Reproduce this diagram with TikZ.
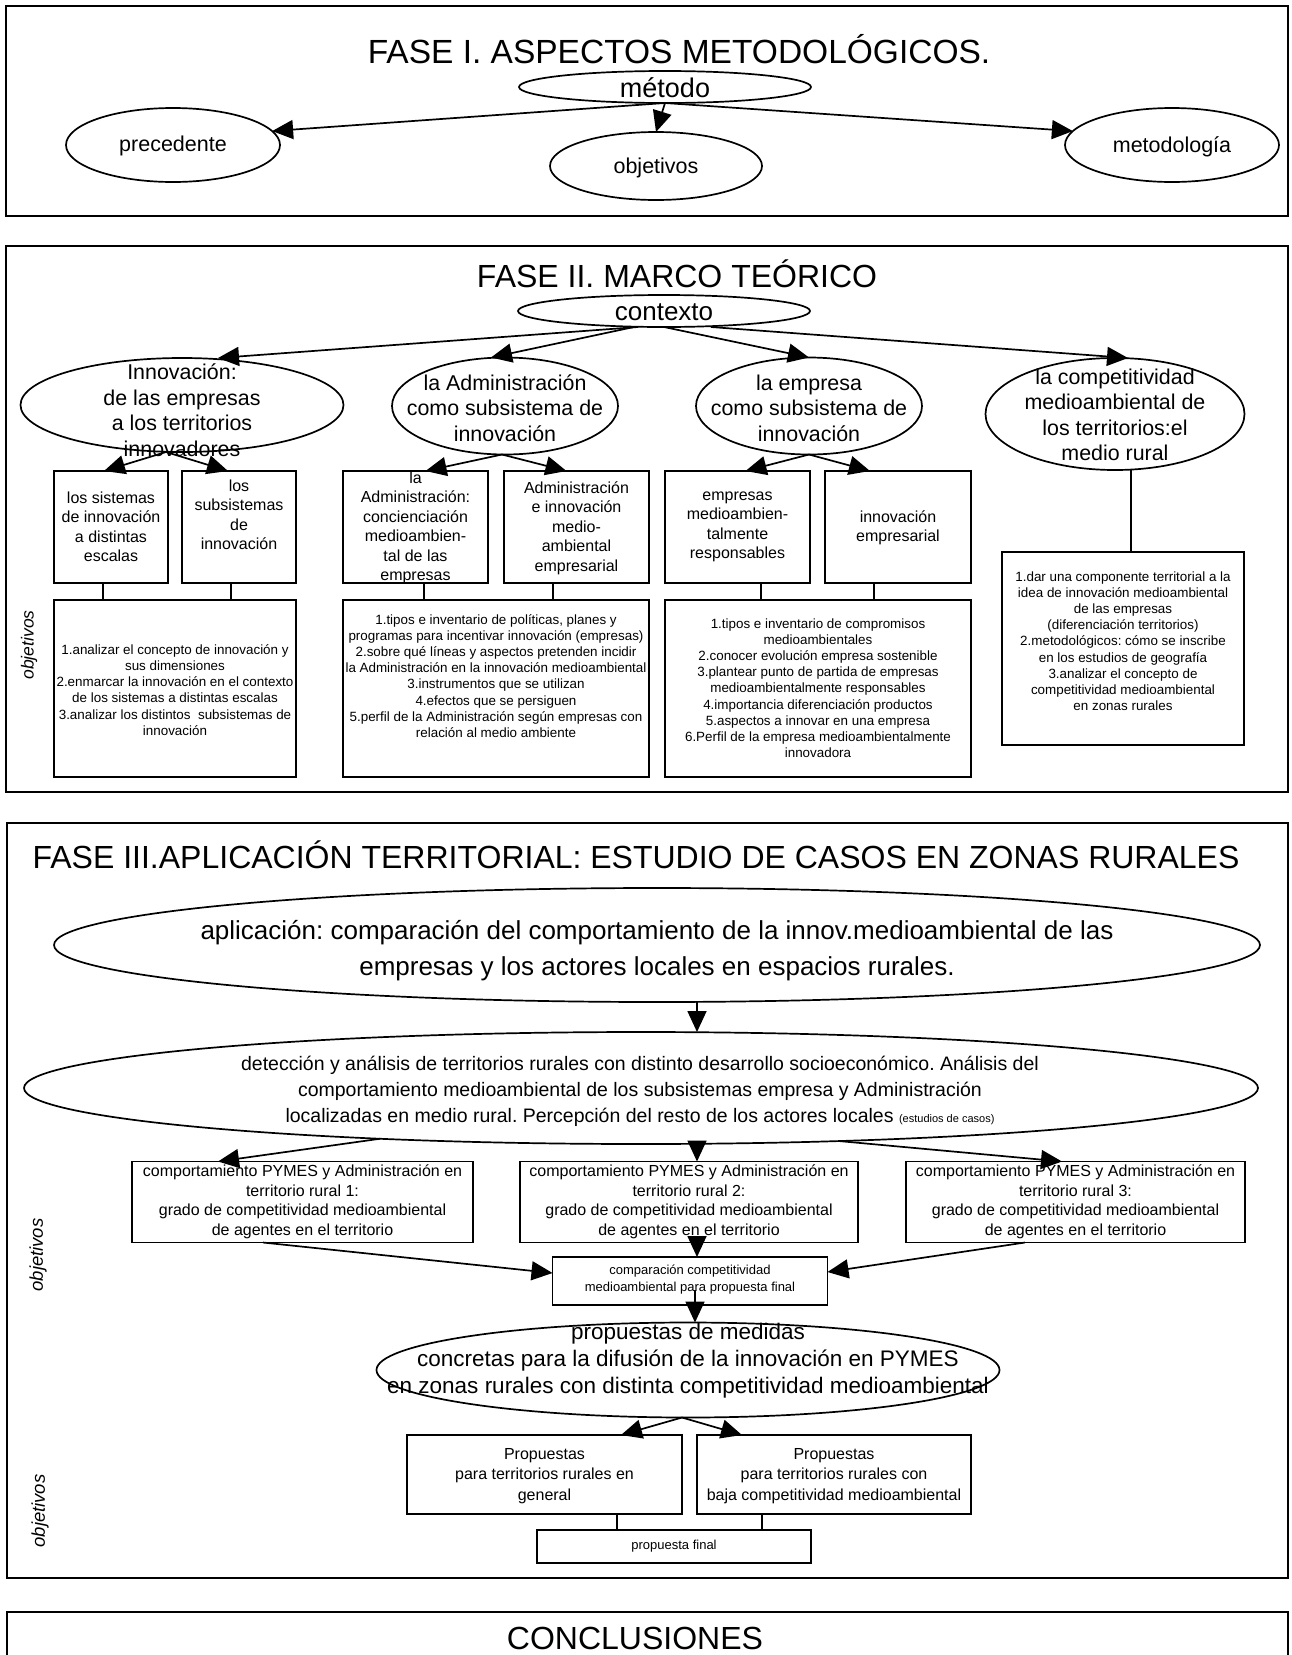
\documentclass[tikz,border=0pt]{standalone}
\usepackage{fontspec}
\setmainfont{Liberation Sans}
\usetikzlibrary{shapes.geometric,arrows.meta,calc}
\newcommand{\myfs}[2]{\fontsize{#1}{#2}\selectfont}
\begin{document}
\frenchspacing
\begin{tikzpicture}[x=1pt,y=-1pt,
  ln/.style={line width=1.7pt},
  arr/.style={line width=1.7pt,-{Triangle[length=21pt,width=19pt]}},
  ell/.style={draw,line width=1.7pt,ellipse,inner sep=0pt,outer sep=0pt},
  bx/.style={draw,line width=1.7pt,rectangle,inner sep=0pt,outer sep=0pt},
  lbl/.style={align=center,inner sep=0pt},
  frame/.style={line width=2.3pt},
  ttl/.style={inner sep=0pt,anchor=base,font={\myfs{32}{38}}},
  obj/.style={inner sep=0pt,rotate=90,font={\myfs{17.5}{20}\itshape}},
  elfont/.style={font={\myfs{21.4}{25.5}}},
  bxfont/.style={font={\myfs{16}{19.5}}},
  smfont/.style={font={\myfs{13.4}{16.2}}}
]
\fill[white] (0,0) rectangle (1291,1655);
\useasboundingbox (0,0) rectangle (1291,1655);
\clip (0,0) rectangle (1291,1655);

% ---------------- Panel 1
\draw[frame] (6,6) rectangle (1288,216);
\node[ttl,font={\myfs{33.5}{40}}] (t1) at (679,63) {FASE I. ASPECTOS METODOLÓGICOS.};
\node[ell,minimum width=292pt,minimum height=32pt] (metodo) at (665,87) {};
\node[lbl,font={\myfs{27}{32}}] (metodoL) at (665,88) {método};
\node[ell,minimum width=214pt,minimum height=74pt] (prec) at (173,145) {};
\node[lbl,font={\myfs{21.5}{26}}] (precL) at (173,146) {precedente};
\node[ell,minimum width=212pt,minimum height=68pt] (objv) at (656,166) {};
\node[lbl,font={\myfs{21.5}{26}}] (objvL) at (656,168) {objetivos};
\node[ell,minimum width=214pt,minimum height=74pt] (metod) at (1172,145) {};
\node[lbl,font={\myfs{21.5}{26}}] (metodL) at (1172,147) {metodología};
\draw[arr] (metodo.south) -- (prec.8);
\draw[arr] (metodo.south) -- (objv.north);
\draw[arr] (metodo.south) -- (metod.172);

% ---------------- Panel 2
\draw[frame] (6,246) rectangle (1288,792);
\node[ttl] (t2) at (677,287) {FASE II. MARCO TEÓRICO};
\node[ell,minimum width=292pt,minimum height=32pt] (ctx) at (664,311) {};
\node[lbl,font={\myfs{26}{30}}] (ctxL) at (664,312) {contexto};

\node[ell,minimum width=323pt,minimum height=94pt] (inno) at (182,405) {};
\node[lbl,elfont] (innoL) at (182,410) {Innovación:\\de las empresas\\a los territorios\\innovadores};
\node[ell,minimum width=226pt,minimum height=97pt] (adm) at (505,406) {};
\node[lbl,elfont] (admL) at (505,408) {la Administración\\como subsistema de\\innovación};
\node[ell,minimum width=226pt,minimum height=97pt] (emp) at (809,406) {};
\node[lbl,elfont] (empL) at (809,408) {la empresa\\como subsistema de\\innovación};
\node[ell,minimum width=259pt,minimum height=112pt] (comp) at (1115,414) {};
\node[lbl,elfont] (compL) at (1115,415) {la competitividad\\medioambiental de\\los territorios:el\\medio rural};

\draw[arr] ([xshift=-26pt]ctx.south) -- ([xshift=36pt]inno.north);
\draw[arr] ([xshift=-30pt]ctx.south) -- ([xshift=-14pt]adm.north);
\draw[arr] (ctx.south) -- (emp.north);
\draw[arr] ([xshift=47pt]ctx.south) -- ([xshift=13pt]comp.north);

\node[bx,minimum width=114pt,minimum height=112pt] (bA) at (111,527) {};
\node[lbl,bxfont] (bAL) at (111,527) {los sistemas\\de innovación\\a distintas\\escalas};
\node[bx,minimum width=114pt,minimum height=112pt] (bB) at (239,527) {};
\node[lbl,bxfont] (bBL) at (239,515) {los\\subsistemas\\de\\innovación};
\node[bx,minimum width=145pt,minimum height=112pt] (bC) at (415.5,527) {};
\node[lbl,bxfont] (bCL) at (415.5,528) {la\\Administración:\\concienciación\\medioambien-\\tal de las\\empresas};
\node[bx,minimum width=145pt,minimum height=112pt] (bD) at (576.5,527) {};
\node[lbl,bxfont] (bDL) at (576.5,528) {Administración\\e innovación\\medio-\\ambiental\\empresarial};
\node[bx,minimum width=145pt,minimum height=112pt] (bE) at (737.5,527) {};
\node[lbl,bxfont] (bEL) at (737.5,527) {empresas\\medioambien-\\talmente\\responsables};
\node[bx,minimum width=146pt,minimum height=112pt] (bF) at (898,527) {};
\node[lbl,bxfont] (bFL) at (898,528) {innovación\\empresarial};

\draw[arr] ([xshift=-16pt]inno.south) -- ([xshift=-7pt]bA.north);
\draw[arr] ([xshift=-16pt]inno.south) -- ([xshift=-11pt]bB.north);
\draw[arr] ([xshift=-3pt]adm.south) -- ([xshift=10pt]bC.north);
\draw[arr] ([xshift=-3pt]adm.south) -- ([xshift=-10pt]bD.north);
\draw[arr] (emp.south) -- ([xshift=8pt]bE.north);
\draw[arr] (emp.south) -- ([xshift=-28pt]bF.north);

\node[bx,minimum width=242pt,minimum height=177pt] (oH) at (175,688.5) {};
\node[lbl,smfont] (oHL) at (175,690) {1.analizar el concepto de innovación y\\sus dimensiones\\2.enmarcar la innovación en el contexto\\de los sistemas a distintas escalas\\3.analizar los distintos\ \ subsistemas de\\innovación};
\node[bx,minimum width=306pt,minimum height=177pt] (oI) at (496,688.5) {};
\node[lbl,smfont] (oIL) at (496,676) {1.tipos e inventario de políticas, planes y\\programas para incentivar innovación (empresas)\\2.sobre qué líneas y aspectos pretenden incidir\\la Administración en la innovación medioambiental\\3.instrumentos que se utilizan\\4.efectos que se persiguen\\5.perfil de la Administración según empresas con\\relación al medio ambiente};
\node[bx,minimum width=306pt,minimum height=177pt] (oJ) at (818,688.5) {};
\node[lbl,smfont] (oJL) at (818,688) {1.tipos e inventario de compromisos\\medioambientales\\2.conocer evolución empresa sostenible\\3.plantear punto de partida de empresas\\medioambientalmente responsables\\4.importancia diferenciación productos\\5.aspectos a innovar en una empresa\\6.Perfil de la empresa medioambientalmente\\innovadora};
\node[bx,minimum width=242pt,minimum height=193pt] (oG) at (1123,648.5) {};
\node[lbl,smfont] (oGL) at (1123,641) {1.dar una componente territorial a la\\idea de innovación medioambiental\\de las empresas\\(diferenciación territorios)\\2.metodológicos: cómo se inscribe\\en los estudios de geografía\\3.analizar el concepto de\\competitividad medioambiental\\en zonas rurales};

\draw[ln] ($(bA.south)+(-8,0)$) -- ($(bA.south |- oH.north)+(-8,0)$);
\draw[ln] ($(bB.south)+(-8,0)$) -- ($(bB.south |- oH.north)+(-8,0)$);
\draw[ln] ($(bC.south)+(8.5,0)$) -- ($(bC.south |- oI.north)+(8.5,0)$);
\draw[ln] ($(bD.south)+(-23.5,0)$) -- ($(bD.south |- oI.north)+(-23.5,0)$);
\draw[ln] ($(bE.south)+(23.5,0)$) -- ($(bE.south |- oJ.north)+(23.5,0)$);
\draw[ln] ($(bF.south)+(-24,0)$) -- ($(bF.south |- oJ.north)+(-24,0)$);
\draw[ln] ($(comp.south)+(16,0)$) -- ($(comp.south |- oG.north)+(16,0)$);

\node[obj] (objA) at (29,645) {objetivos};

% ---------------- Panel 3
\draw[frame] (7,823) rectangle (1288,1578);
\node[ttl] (t3) at (636,868) {FASE III.APLICACIÓN TERRITORIAL: ESTUDIO DE CASOS EN ZONAS RURALES};
\node[ell,minimum width=1206pt,minimum height=114pt] (apl) at (657,945) {};
\node[lbl,font={\myfs{26}{36}}] (aplL) at (657,951) {aplicación: comparación del comportamiento de la innov.medioambiental de las\\empresas y los actores locales en espacios rurales.};
\node[ell,minimum width=1234pt,minimum height=112pt] (det) at (641,1088) {};
\node[lbl,font={\myfs{19.5}{26}}] (detL) at (640,1091) {detección y análisis de territorios rurales con distinto desarrollo socioeconómico. Análisis del\\comportamiento medioambiental de los subsistemas empresa y Administración\\localizadas en medio rural. Percepción del resto de los actores locales {\myfs{11}{13}(estudios de casos)}};
\draw[arr] ([xshift=40pt]apl.south) -- ([xshift=56pt]det.north);

\node[bx,minimum width=341pt,minimum height=81pt] (r1) at (302.5,1202) {};
\node[lbl,bxfont] (r1L) at (302.5,1202) {comportamiento PYMES y Administración en\\territorio rural 1:\\grado de competitividad medioambiental\\de agentes en el territorio};
\node[bx,minimum width=338pt,minimum height=81pt] (r2) at (689,1202) {};
\node[lbl,bxfont] (r2L) at (689,1202) {comportamiento PYMES y Administración en\\territorio rural 2:\\grado de competitividad medioambiental\\de agentes en el territorio};
\node[bx,minimum width=339pt,minimum height=81pt] (r3) at (1075.5,1202) {};
\node[lbl,bxfont] (r3L) at (1075.5,1202) {comportamiento PYMES y Administración en\\territorio rural 3:\\grado de competitividad medioambiental\\de agentes en el territorio};

\draw[arr] (det.191) -- ([xshift=-84.5pt]r1.north);
\draw[arr] ([xshift=56pt]det.south) -- ([xshift=8pt]r2.north);
\draw[arr] (det.345) -- ([xshift=-13.5pt]r3.north);

\node[bx,minimum width=275pt,minimum height=48pt] (cmp) at (690,1281) {};
\node[lbl,font={\myfs{13}{17}}] (cmpL) at (690,1280) {comparación competitividad\\medioambiental para propuesta final};
\draw[arr] ([xshift=-39.5pt]r1.south) -- ([yshift=8pt]cmp.west);
\draw[arr] ([xshift=8pt]r2.south) -- ([xshift=7pt]cmp.north);
\draw[arr] ([xshift=-50.5pt]r3.south) -- ([yshift=9pt]cmp.east);

\node[ell,minimum width=623pt,minimum height=95pt] (prop) at (688,1370) {};
\node[lbl,font={\myfs{22.5}{27}}] (propL) at (688,1361) {propuestas de medidas\\concretas para la difusión de la innovación en PYMES\\en zonas rurales con distinta competitividad medioambiental};
\draw[arr] ([xshift=5pt,yshift=-9pt]cmp.center) -- ([xshift=7pt]prop.north);

\node[bx,minimum width=275pt,minimum height=79pt] (pl) at (544.5,1474.5) {};
\node[lbl,font={\myfs{16}{20.5}}] (plL) at (544.5,1476) {Propuestas\\para territorios rurales en\\general};
\node[bx,minimum width=274pt,minimum height=79pt] (pr) at (834,1474.5) {};
\node[lbl,font={\myfs{16}{20.5}}] (prL) at (834,1476) {Propuestas\\para territorios rurales con\\baja competitividad medioambiental};
\draw[arr] ([xshift=-6pt]prop.south) -- ([xshift=76.5pt]pl.north);
\draw[arr] ([xshift=-6pt]prop.south) -- ([xshift=-92pt]pr.north);

\node[bx,minimum width=274pt,minimum height=33pt] (pf) at (674,1546.5) {};
\node[lbl,font={\myfs{13}{16}}] (pfL) at (674,1546.5) {propuesta final};
\draw[ln] ($(pl.south)+(72.5,0)$) -- ($(pl.south |- pf.north)+(72.5,0)$);
\draw[ln] ($(pr.south)+(-72,0)$) -- ($(pr.south |- pf.north)+(-72,0)$);

\node[obj,font={\myfs{18.5}{21}\itshape}] (objB) at (38,1255) {objetivos};
\node[obj,font={\myfs{18.5}{21}\itshape}] (objC) at (40,1511) {objetivos};

% ---------------- Panel 4
\draw[frame] (7,1612) rectangle (1288,1720);
\node[ttl] (t4) at (635,1649) {CONCLUSIONES};
\end{tikzpicture}
\end{document}
